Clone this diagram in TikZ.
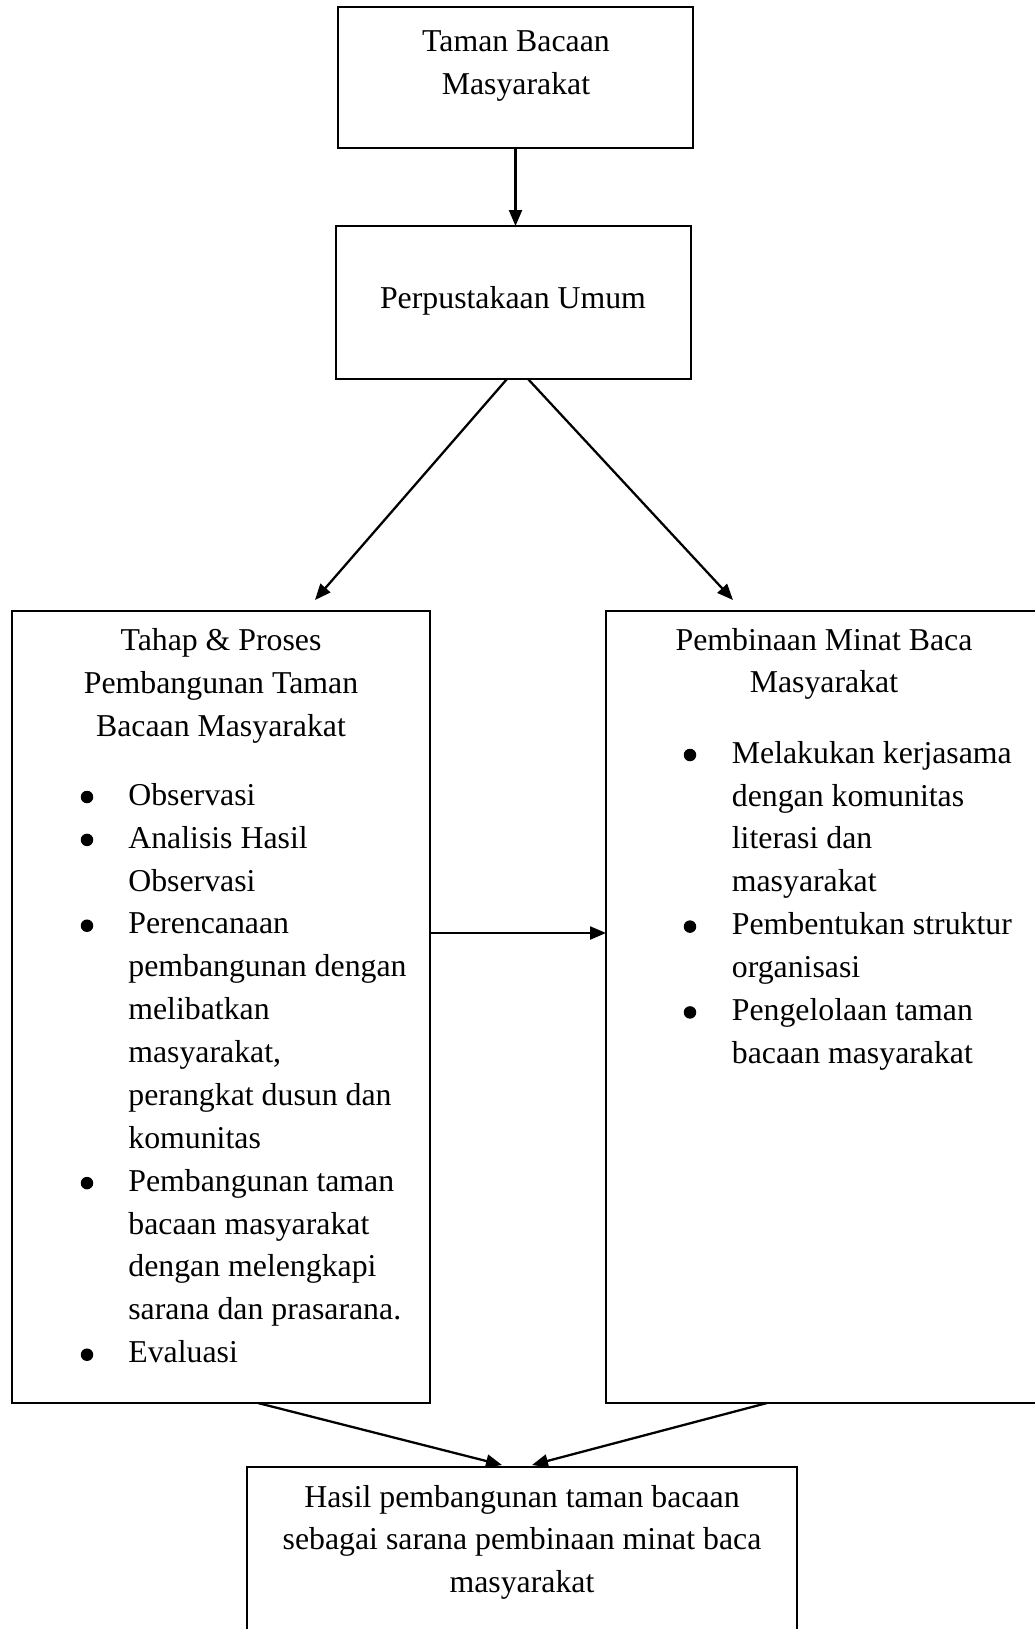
\documentclass[tikz,border=0pt]{standalone}
\usepackage{fontspec}
\setmainfont{Liberation Serif}
\usetikzlibrary{arrows.meta}

\begin{document}
\begin{tikzpicture}[
    every node/.style={font=\fontsize{18.1pt}{24.4pt}\selectfont},
    kotak/.style={draw, line width=0.9pt, inner sep=0pt, outer sep=0pt, anchor=north west},
    judul/.style={align=center, anchor=base, inner sep=0pt},
    daftar/.style={align=left, anchor=base west, inner sep=0pt},
    panah/.style={-{Triangle[length=0.32cm, width=0.26cm]}, line width=1.3pt},
]
    \useasboundingbox (0,0) rectangle (20.7,-32.58);
    \clip (0,0) rectangle (20.7,-32.58);

    % Taman Bacaan Masyarakat
    \node[kotak, minimum width=7.1cm, minimum height=2.82cm] (tbm) at (6.76,-0.14) {};
    \node[judul] (tbm-teks) at (10.32,-1.88) {Taman Bacaan\\Masyarakat};

    % Perpustakaan Umum
    \node[kotak, minimum width=7.1cm, minimum height=3.06cm] (pu) at (6.72,-4.52) {};
    \node[judul] (pu-teks) at (10.26,-6.16) {Perpustakaan Umum};

    % Tahap & Proses (kiri)
    \node[kotak, minimum width=8.36cm, minimum height=15.84cm] (kiri) at (0.24,-12.22) {};
    \node[judul] (kiri-judul) at (4.42,-14.72) {Tahap \& Proses\\Pembangunan Taman\\Bacaan Masyarakat};
    \node[daftar] (kiri-daftar) at (2.56,-27.254) {Observasi\\Analisis Hasil\\Observasi\\Perencanaan\\pembangunan dengan\\melibatkan\\masyarakat,\\perangkat dusun dan\\komunitas\\Pembangunan taman\\bacaan masyarakat\\dengan melengkapi\\sarana dan prasarana.\\Evaluasi};
    \foreach \i in {0,1,3,9,13}
        \fill (1.74,{-15.94-0.858*\i}) circle (0.125);

    % Pembinaan Minat Baca (kanan)
    \node[kotak, minimum width=9cm, minimum height=15.84cm] (kanan) at (12.12,-12.22) {};
    \node[judul] (kanan-judul) at (16.48,-13.858) {Pembinaan Minat Baca\\Masyarakat};
    \node[daftar] (kanan-daftar) at (14.63,-21.266) {Melakukan kerjasama\\dengan komunitas\\literasi dan\\masyarakat\\Pembentukan struktur\\organisasi\\Pengelolaan taman\\bacaan masyarakat};
    \foreach \i in {0,4,6}
        \fill (13.8,{-15.10-0.858*\i}) circle (0.125);

    % Hasil
    \node[kotak, minimum width=11cm, minimum height=4cm] (hasil) at (4.94,-29.34) {};
    \node[judul] (hasil-teks) at (10.44,-31.856) {Hasil pembangunan taman bacaan\\sebagai sarana pembinaan minat baca\\masyarakat};

    % Arrows
    \draw[panah] (tbm.south) -- (tbm.south |- pu.north);
    \draw[panah] ([xshift=-0.13cm]pu.south) -- ([xshift=1.88cm, yshift=0.22cm]kiri.north);
    \draw[panah] ([xshift=0.29cm]pu.south) -- ([xshift=2.54cm, yshift=0.22cm]kanan.north west);
    \draw[panah] ([yshift=1.48cm]kiri.east) -- ([yshift=1.48cm]kanan.west);
    \draw[panah] ([xshift=0.74cm]kiri.south) -- ([xshift=-0.40cm, yshift=0.04cm]hasil.north);
    \draw[panah] ([xshift=3.22cm]kanan.south west) -- ([xshift=0.20cm, yshift=0.04cm]hasil.north);

\end{tikzpicture}
\end{document}
